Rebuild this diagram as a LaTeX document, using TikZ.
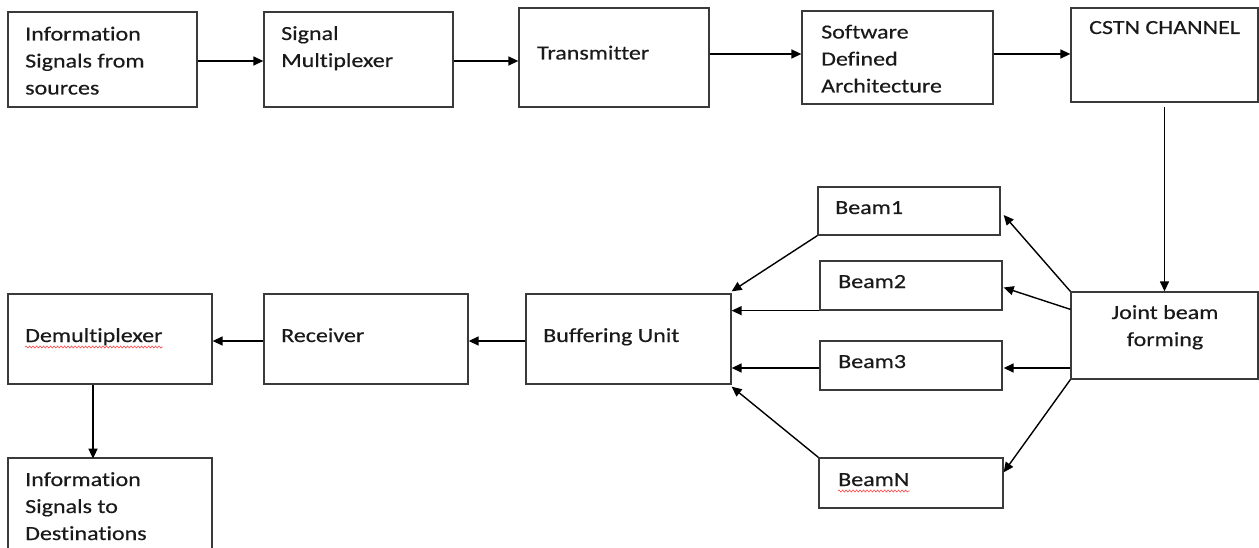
\documentclass[tikz,border=0pt]{standalone}
\usepackage{fontspec}
\setmainfont[FakeStretch=1.2, FakeBold=0.4, Ligatures=NoCommon]{Carlito}
\usetikzlibrary{arrows.meta,calc,decorations.pathmorphing}
\definecolor{boxline}{HTML}{3A3A3A}
\definecolor{txt}{HTML}{1A1A1A}
\tikzset{
  box/.style={draw=boxline, line width=1.3pt, rectangle, inner sep=0pt},
  lbl/.style={anchor=base west, inner sep=0pt, text=txt, font=\fontsize{20}{27}\selectfont},
  clbl/.style={anchor=base, inner sep=0pt, text=txt, font=\fontsize{20}{27}\selectfont},
  arr/.style={draw=black, line width=1.4pt, -{Triangle[length=10pt,width=9pt]}},
  squig/.style={draw=red!75, line width=0.6pt, decorate, decoration={snake, amplitude=1pt, segment length=3.5pt}}
}
\begin{document}
\begin{tikzpicture}[x=1pt,y=-1pt]
\useasboundingbox (0,0) rectangle (1259,548);
% boxes
\node[box, minimum width=189pt, minimum height=95pt] (info) at (102.5,59.5) {};
\node[box, minimum width=189pt, minimum height=95pt] (mux) at (358.5,59.5) {};
\node[box, minimum width=190pt, minimum height=99pt] (tx) at (614,57.5) {};
\node[box, minimum width=191pt, minimum height=93pt] (sda) at (897.5,57.5) {};
\node[box, minimum width=187pt, minimum height=94pt] (cstn) at (1164.5,55) {};
\node[box, minimum width=187pt, minimum height=87pt] (joint) at (1164.5,335.5) {};
\node[box, minimum width=182pt, minimum height=48pt] (beam1) at (909,211) {};
\node[box, minimum width=182pt, minimum height=49pt] (beam2) at (911,285.5) {};
\node[box, minimum width=182pt, minimum height=49pt] (beam3) at (911,365.5) {};
\node[box, minimum width=184pt, minimum height=50pt] (beamN) at (911,483) {};
\node[box, minimum width=205pt, minimum height=90pt] (buffer) at (628.5,339) {};
\node[box, minimum width=204pt, minimum height=90pt] (receiver) at (366,339) {};
\node[box, minimum width=204pt, minimum height=90pt] (demux) at (110,339) {};
\node[box, minimum width=204pt, minimum height=100pt] (dest) at (110,508) {};
% labels
\node[lbl] (info-a) at (25,40.5) {Information};
\node[lbl] (info-b) at (25,67.5) {Signals from};
\node[lbl] (info-c) at (25,94.5) {sources};
\node[lbl] (mux-a) at (281,40) {Signal};
\node[lbl] (mux-b) at (281,67) {Multiplexer};
\node[lbl] (tx-a) at (537,59.5) {Transmitter};
\node[lbl] (sda-a) at (821,38.5) {Software};
\node[lbl] (sda-b) at (821,65.5) {Defined};
\node[lbl] (sda-c) at (821,92.5) {Architecture};
\node[lbl] (cstn-a) at (1089,34) {CSTN CHANNEL};
\node[clbl] (joint-a) at (1165,319) {Joint beam};
\node[clbl] (joint-b) at (1165,346) {forming};
\node[lbl] (beam1-a) at (835,214) {Beam1};
\node[lbl] (beam2-a) at (838,288) {Beam2};
\node[lbl] (beam3-a) at (838,368) {Beam3};
\node[lbl] (beamN-a) at (838,486) {BeamN};
\node[lbl] (buffer-a) at (543,342) {Buffering Unit};
\node[lbl] (receiver-a) at (281,342) {Receiver};
\node[lbl] (demux-a) at (25,342) {Demultiplexer};
\node[lbl] (dest-a) at (25,486) {Information};
\node[lbl] (dest-b) at (25,513) {Signals to};
\node[lbl] (dest-c) at (25,540) {Destinations};
% spell-check underlines
\draw[squig] ($(demux-a.base west)+(0,5)$) -- ($(demux-a.base east)+(0,5)$);
\draw[squig] ($(beamN-a.base west)+(0,5)$) -- ($(beamN-a.base east)+(0,5)$);
% top row connectors
\draw[arr] ($(info.east)+(0,1.5)$) -- ($(mux.west)+(0,1.5)$);
\draw[arr] ($(mux.east)+(0,1.5)$) -- ($(mux.east -| tx.west)+(0,1.5)$);
\draw[arr] ($(tx.east)+(0,-3.5)$) -- ($(tx.east -| sda.west)+(0,-3.5)$);
\draw[arr] ($(sda.east)+(0,-3.5)$) -- ($(sda.east -| cstn.west)+(0,-3.5)$);
\draw[arr, shorten <=4pt] (cstn.south) -- (joint.north);
% joint to beams
\draw[arr] (joint.north west) -- ($(beam1.east)+(3,4)$);
\draw[arr] ($(joint.north west)+(0,18)$) -- ($(beam2.east)+(1,2)$);
\draw[arr] ($(beam3.east -| joint.west)+(0,2.5)$) -- ($(beam3.east)+(1,2.5)$);
\draw[arr] (joint.south west) -- ($(beamN.north east)+(0,15)$);
% beams to buffer
\draw[arr] (beam1.south west) -- ($(buffer.north east)+(0,-2)$);
\draw[arr] (beam2.south west) -- (beam2.south west -| buffer.east);
\draw[arr] ($(beam3.west)+(0,2.5)$) -- ($(beam3.west -| buffer.east)+(0,2.5)$);
\draw[arr] (beamN.north west) -- ($(buffer.south east)+(0,2)$);
% bottom row
\draw[arr] ($(buffer.west)+(0,2)$) -- ($(receiver.east)+(0,2)$);
\draw[arr] ($(receiver.west)+(0,2)$) -- ($(demux.east)+(0,2)$);
\draw[arr] ($(demux.south)+(-17,0)$) -- ($(demux.south -| dest.north)+(-17,74)$);
\end{tikzpicture}
\end{document}
